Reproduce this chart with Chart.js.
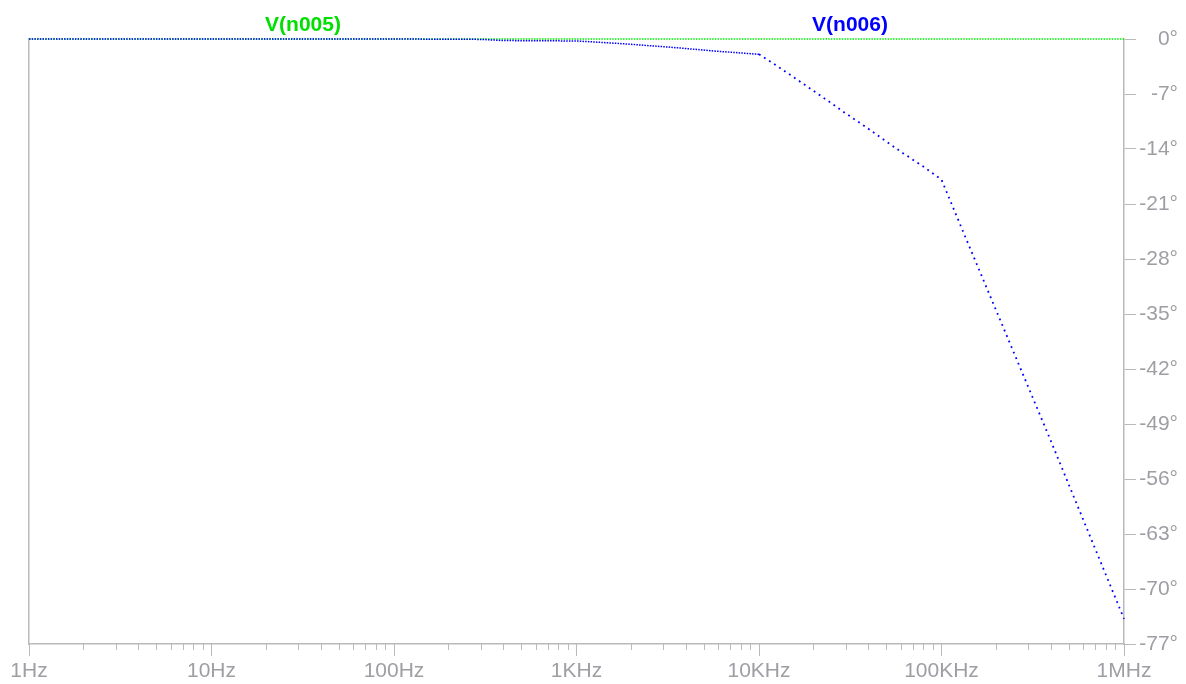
<!DOCTYPE html>
<html>
<head>
<meta charset="utf-8">
<script src="https://cdn.jsdelivr.net/npm/chart.js@4.4.1/dist/chart.umd.min.js"></script>
<style>
    body { margin: 0; background: #fff; }
    #wrap { position: relative; width: 1186px; height: 684px; }
    .trace {
        position: absolute;
        top: 12px;
        font: bold 21px 'Liberation Sans', Arial, sans-serif;
        line-height: 24px;
        transform: translateX(-50%);
        white-space: nowrap;
    }
</style>
</head>
<body>
<div id="wrap">
    <canvas id="bode" width="1186" height="684"></canvas>
    <div class="trace" style="left:303px;color:#00e000">V(n005)</div>
    <div class="trace" style="left:850px;color:#0000ff">V(n006)</div>
</div>
<script>
// Frequenze (Hz) e fase (gradi)
const n006Freq = [1, 100, 300, 400, 1000, 1300, 1800, 2500, 3300, 4400, 5800, 7700, 10000,
    12500, 16400, 22300, 29200, 38500, 47200, 61500, 79500, 100000,
    130700, 206500, 386800, 665300, 1000000];
const n006Phase = [0, 0, -0.05, -0.2, -0.25, -0.4, -0.6, -0.85, -1.05, -1.3, -1.55, -1.75, -1.95,
    -3.4, -5.26, -7.39, -9.31, -11.2, -12.66, -14.53, -16.23, -17.9,
    -24.4, -35.4, -50.5, -63.8, -73.8];

const n005Freq = [1, 1000000];
const n005Phase = [0, 0];

// Tick dell'asse
const decadeTicks = [1, 10, 100, 1000, 10000, 100000, 1000000];
const xTickLabels = ["1Hz", "10Hz", "100Hz", "1KHz", "10KHz", "100KHz", "1MHz"];
const yTicks = [0, -7, -14, -21, -28, -35, -42, -49, -56, -63, -70, -77];

const axisGray = "#bababa";
const labelGray = "#9e9ea4";

// Tick minori 2..9 per ogni decade
const minorTicks = [];
decadeTicks.forEach(d => {
    for (let m = 1; m <= 9; m++) {
        if (d * m <= 1000000) minorTicks.push(d * m);
    }
});

Chart.defaults.font.family = "'Liberation Sans', Arial, sans-serif";

new Chart(document.getElementById("bode"), {
    type: "line",
    data: {
        datasets: [{
            label: "V(n006)",
            data: n006Freq.map((f, i) => ({ x: f, y: n006Phase[i] })),
            borderColor: "#0000ff",
            borderWidth: 1.5,
            borderDash: [1.5, 1.2],
            pointRadius: 0,
            tension: 0,
            clip: 4,
            segment: {
                borderWidth: ctx => ctx.p1.parsed.y < -2 ? 1.8 : 1.5,
                borderDash: ctx => ctx.p1.parsed.y < -2 ? [1.8, 4.2] : [1.5, 1.2]
            }
        }, {
            label: "V(n005)",
            data: n005Freq.map((f, i) => ({ x: f, y: n005Phase[i] })),
            borderColor: "#00ee00",
            borderWidth: 1.5,
            borderDash: [1.5, 1.2],
            pointRadius: 0,
            clip: 4
        }]
    },
    options: {
        responsive: false,
        animation: false,
        events: [],
        layout: { padding: { left: 29, top: 39, right: 8, bottom: 0 } },
        plugins: {
            legend: { display: false },
            tooltip: { enabled: false }
        },
        scales: {
            x: {
                type: "logarithmic",
                position: "bottom",
                weight: 0,
                min: 1,
                max: 1000000,
                afterBuildTicks: s => { s.ticks = minorTicks.map(v => ({ value: v })); },
                afterFit: s => { s.height = 0; },
                grid: { drawOnChartArea: false, tickLength: 6, tickColor: axisGray },
                border: { display: false },
                ticks: { display: false }
            },
            x2: {
                type: "logarithmic",
                position: "bottom",
                weight: 1,
                min: 1,
                max: 1000000,
                afterBuildTicks: s => { s.ticks = decadeTicks.map(v => ({ value: v })); },
                afterFit: s => { s.height = 40; },
                grid: { drawOnChartArea: false, tickLength: 12, tickColor: axisGray },
                border: { color: axisGray, width: 1.5 },
                ticks: {
                    autoSkip: false,
                    maxRotation: 0,
                    padding: 3,
                    color: labelGray,
                    font: { size: 21 },
                    callback: (v, i) => xTickLabels[i]
                }
            },
            y: {
                position: "right",
                min: -77,
                max: 0,
                afterBuildTicks: s => { s.ticks = yTicks.map(v => ({ value: v })); },
                afterFit: s => { s.width = 54; },
                grid: { drawOnChartArea: false, tickLength: 12, tickColor: axisGray },
                border: { color: axisGray, width: 1.5 },
                ticks: {
                    padding: 3,
                    crossAlign: "far",
                    color: labelGray,
                    font: { size: 21 },
                    callback: v => v + "°"
                }
            },
            yl: {
                position: "left",
                min: -77,
                max: 0,
                afterFit: s => { s.width = 0; },
                grid: { drawOnChartArea: false, drawTicks: false },
                border: { color: axisGray, width: 1.5 },
                ticks: { display: false }
            }
        }
    }
});
</script>
</body>
</html>
